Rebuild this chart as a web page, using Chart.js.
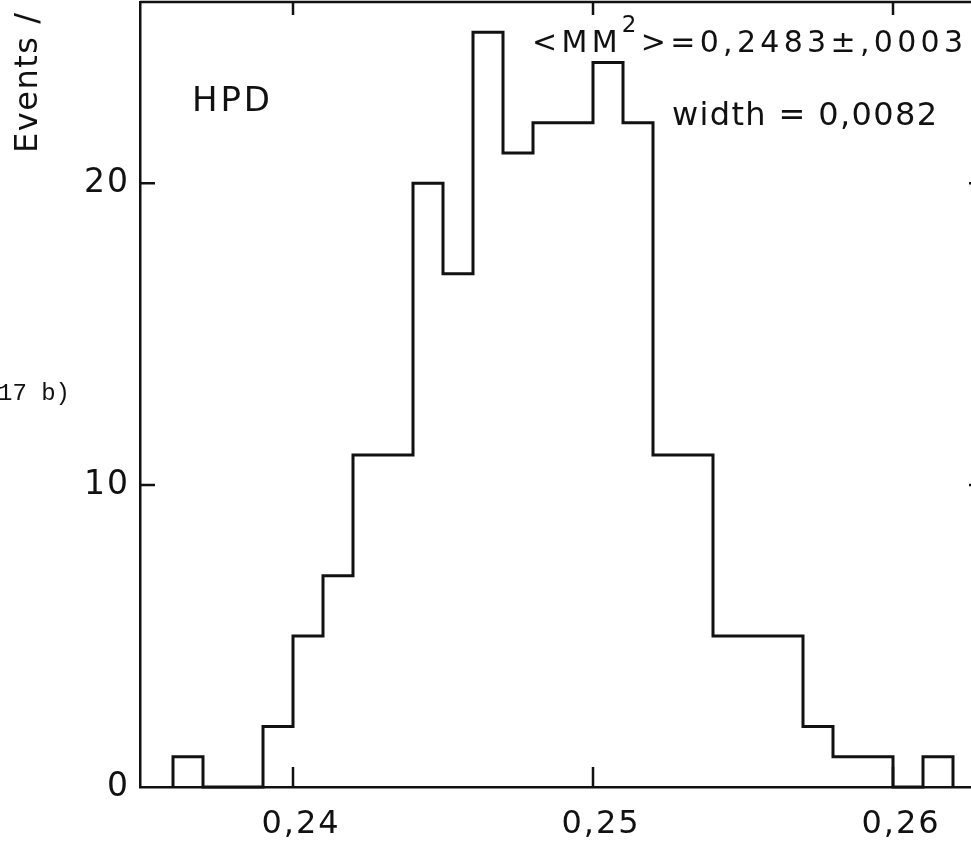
<!DOCTYPE html>
<html>
<head>
<meta charset="utf-8">
<script src="https://cdn.jsdelivr.net/npm/chart.js@4/dist/chart.umd.min.js"></script>
<style>
  html, body { margin: 0; background: #fff; overflow: hidden; width: 971px; height: 843px; }
  #wrap { position: absolute; left: 0; top: 0; width: 986px; height: 843px; }
</style>
</head>
<body>
<div id="wrap"><canvas id="hist" width="986" height="843"></canvas></div>
<script>
// Données (histogramme HPD, MM²)
const binEdges = [0.236, 0.237, 0.238, 0.239, 0.240, 0.241, 0.242, 0.243, 0.244,
  0.245, 0.246, 0.247, 0.248, 0.249, 0.250, 0.251, 0.252, 0.253, 0.254,
  0.255, 0.256, 0.257, 0.258, 0.259, 0.260, 0.261, 0.262];
const counts = [1, 0, 0, 2, 5, 7, 11, 11, 20, 17, 25, 21, 22, 22, 24, 22,
  11, 11, 5, 5, 5, 2, 1, 1, 0, 1];
const xTicks = [0.24, 0.25, 0.26];
const xTickLabels = ['0,24', '0,25', '0,26'];
const yTicks = [0, 10, 20];
const yTickLabels = ['0', '10', '20'];

const INK = '#111';
const FONT = '"DejaVu Sans", "Liberation Sans", sans-serif';

// Contour en escalier : on part de la ligne de base et on y revient
const points = [{ x: binEdges[0], y: 0 }];
counts.forEach((c, i) => points.push({ x: binEdges[i], y: c }));
points.push({ x: binEdges[binEdges.length - 1], y: 0 });

// Texte espacé caractère par caractère sur une largeur donnée
const spacedText = (ctx, segments, x, y, width) => {
  const chars = [];
  segments.forEach(s => { for (const ch of s.t) chars.push({ ch, font: s.font, dy: s.dy || 0 }); });
  let total = 0;
  chars.forEach(c => { ctx.font = c.font; c.w = ctx.measureText(c.ch).width; total += c.w; });
  const gap = chars.length > 1 ? (width - total) / (chars.length - 1) : 0;
  let cx = x;
  chars.forEach(c => { ctx.font = c.font; ctx.fillText(c.ch, cx, y + c.dy); cx += c.w + gap; });
};

const framePlugin = {
  id: 'frame',
  beforeDraw(chart) {
    chart.ctx.letterSpacing = '2px'; // lettrage un peu espacé des graduations
  },
  beforeDatasetsDraw(chart) {
    chart.ctx.letterSpacing = '0px';
  },
  afterDraw(chart) {
    const { ctx, chartArea: a, scales: { x, y } } = chart;
    ctx.save();
    ctx.letterSpacing = '0px';
    ctx.strokeStyle = INK;
    ctx.lineWidth = 2.5;
    ctx.beginPath();
    // cadre haut et droit
    ctx.moveTo(a.left, a.top); ctx.lineTo(a.right, a.top);
    ctx.moveTo(a.right, a.top); ctx.lineTo(a.right, a.bottom);
    // graduations intérieures
    xTicks.forEach(v => {
      const px = x.getPixelForValue(v);
      ctx.moveTo(px, a.bottom); ctx.lineTo(px, a.bottom - 20);
      ctx.moveTo(px, a.top); ctx.lineTo(px, a.top + 13);
    });
    yTicks.filter(v => v > 0).forEach(v => {
      const py = y.getPixelForValue(v);
      ctx.moveTo(a.left, py); ctx.lineTo(a.left + 15, py);
      ctx.moveTo(a.right, py); ctx.lineTo(a.right - 17, py);
    });
    ctx.stroke();

    ctx.fillStyle = INK;
    ctx.textBaseline = 'alphabetic';
    ctx.textAlign = 'left';
    spacedText(ctx, [{ t: 'HPD', font: '34px ' + FONT }], 192, 111, 78);
    spacedText(ctx, [
      { t: '<MM', font: '30px ' + FONT },
      { t: '2', font: '23px ' + FONT, dy: -20 },
      { t: '>=0,2483±,0003', font: '30px ' + FONT }
    ], 532, 52, 431);
    spacedText(ctx, [{ t: 'width = 0,0082', font: '32px ' + FONT }], 672, 125, 265);

    // titre de l'axe vertical (coupé en haut)
    ctx.save();
    ctx.translate(37, 153);
    ctx.rotate(-Math.PI / 2);
    spacedText(ctx, [{ t: 'Events /', font: '32px ' + FONT }], 0, 0, 140);
    ctx.restore();

    // légende de figure, coupée à gauche
    ctx.font = '24px "Liberation Mono", "Courier New", monospace';
    ctx.textAlign = 'right';
    ctx.fillText('17 b)', 70, 400);
    ctx.restore();
  }
};

new Chart(document.getElementById('hist'), {
  type: 'line',
  data: {
    datasets: [{
      data: points,
      stepped: 'before',
      borderColor: INK,
      borderWidth: 3,
      pointRadius: 0,
      fill: false,
      clip: false
    }]
  },
  options: {
    responsive: false,
    animation: false,
    devicePixelRatio: 1,
    layout: { padding: { top: 2, left: 0, right: 0, bottom: 0 } },
    plugins: { legend: { display: false }, tooltip: { enabled: false } },
    scales: {
      x: {
        type: 'linear',
        min: 0.2349,
        max: 0.2631,
        afterBuildTicks: s => { s.ticks = xTicks.map(v => ({ value: v })); },
        afterFit: s => { s.height = 56; s.paddingLeft = 0; s.paddingRight = 0; },
        grid: { display: false, drawTicks: false },
        border: { display: true, color: INK, width: 2.5 },
        ticks: {
          color: INK,
          font: { family: FONT, size: 32 },
          padding: 18,
          labelOffset: 8,
          maxRotation: 0,
          callback: v => xTickLabels[xTicks.indexOf(v)] ?? ''
        }
      },
      y: {
        min: 0,
        max: 26,
        afterBuildTicks: s => { s.ticks = yTicks.map(v => ({ value: v })); },
        afterFit: s => { s.width = 140; s.paddingTop = 0; s.paddingBottom = 0; },
        grid: { display: false, drawTicks: false },
        border: { display: true, color: INK, width: 2.5 },
        ticks: {
          color: INK,
          font: { family: FONT, size: 33 },
          padding: 10,
          callback: v => yTickLabels[yTicks.indexOf(v)] ?? ''
        }
      }
    }
  },
  plugins: [framePlugin]
});
</script>
</body>
</html>
